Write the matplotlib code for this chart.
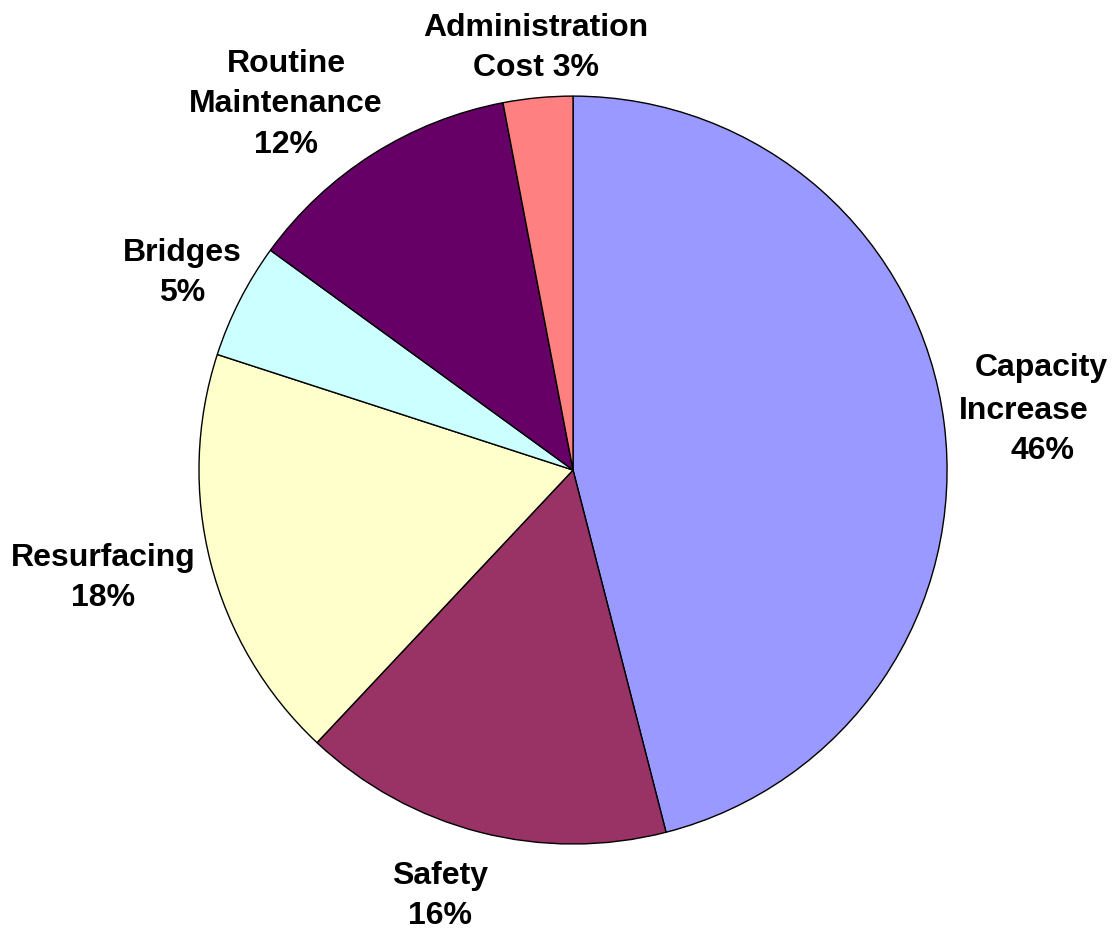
import matplotlib
matplotlib.use("Agg")
import matplotlib.pyplot as plt

categories = ["Capacity\nIncrease", "Safety", "Resurfacing", "Bridges",
              "Routine\nMaintenance", "Administration\nCost"]
values = [46, 16, 18, 5, 12, 3]
colors = ["#9999FF", "#993366", "#FFFFCC", "#CCFFFF", "#660066", "#FF8080"]

label_texts = ["Safety\n16%", "Resurfacing\n18%",
               "Bridges\n5%", "Routine\nMaintenance\n12%", "Administration\nCost 3%"]
label_pos = [(-0.356, -1.139), (-1.257, -0.289),
             (-1.045, 0.527), (-0.767, 0.978), (-0.099, 1.128)]
# Capacity label lines are individually placed (as in the reference)
cap_lines = ["Capacity", "Increase", "46%"]
cap_pos = [(1.251, 0.252), (1.206, 0.136), (1.256, 0.029)]

plt.rcParams['font.family'] = ['Liberation Sans', 'DejaVu Sans']

fig = plt.figure(figsize=(11.18, 9.3), dpi=100)
ax = fig.add_axes([0, 0, 1, 1])
ax.pie(values, colors=colors, startangle=90, counterclock=False, radius=1.0,
       wedgeprops=dict(edgecolor="black", linewidth=1.0))
ax.set_xlim(-1.532, 1.457)
ax.set_ylim(-1.230, 1.257)
ax.set_aspect('auto')
ax.axis('off')

FS = 23
for txt, (x, y) in zip(label_texts, label_pos):
    ax.text(x, y, txt, ha='center', va='center', fontsize=FS, fontweight='bold',
            linespacing=1.45)
for txt, (x, y) in zip(cap_lines, cap_pos):
    ax.text(x, y, txt, ha='center', va='baseline', fontsize=FS, fontweight='bold')

fig.savefig("out.png", dpi=100)
